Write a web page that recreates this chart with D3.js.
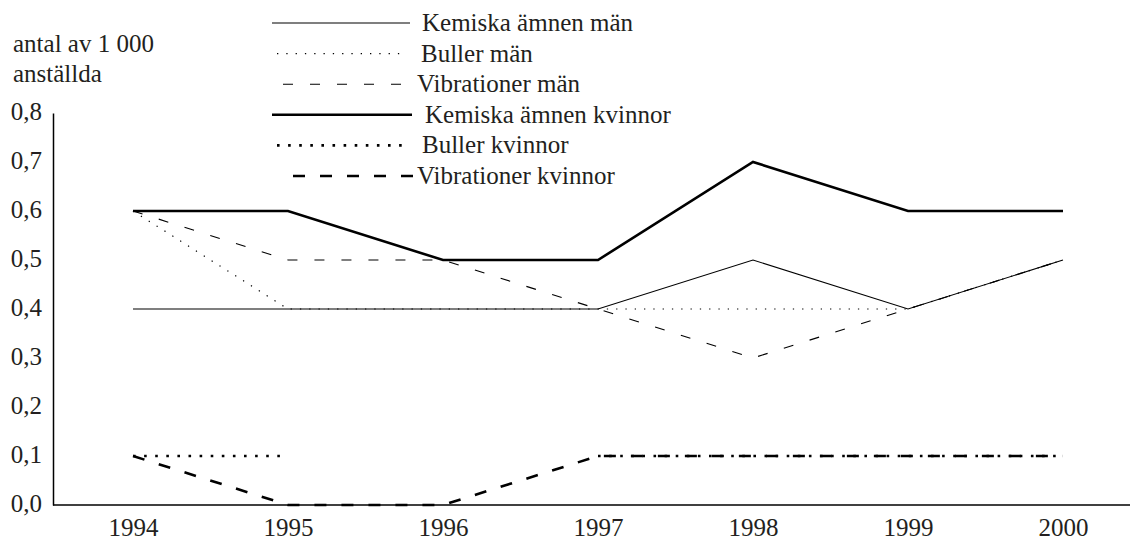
<!DOCTYPE html>
<html>
  <head>
    <meta charset="utf-8">
    <script src="https://d3js.org/d3.v7.min.js"></script>
    <title>Arbetsskador</title>
    <style>
      body { margin: 0px; background: #fff; }
      text {
        font-family: "Liberation Serif", "Times New Roman", serif;
        font-size: 25px;
        fill: #231f20;
      }
      .tick line { display: none; }
      .line { fill: none; stroke: #000; }
    </style>
  </head>
  <body>
    <svg width="1130" height="540"></svg>
    <script>
      const years = ['1994', '1995', '1996', '1997', '1998', '1999', '2000'];
      const yTicks = [0, 0.1, 0.2, 0.3, 0.4, 0.5, 0.6, 0.7, 0.8];

      const kemiskaMan      = [0.4, 0.4, 0.4, 0.4, 0.5, 0.4, 0.5];
      const bullerMan       = [0.6, 0.4, 0.4, 0.4, 0.4, 0.4, 0.5];
      const vibrationerMan  = [0.6, 0.5, 0.5, 0.4, 0.3, 0.4, 0.5];
      const kemiskaKvinnor  = [0.6, 0.6, 0.5, 0.5, 0.7, 0.6, 0.6];
      const bullerKvinnor   = [0.1, 0.1, null, 0.1, 0.1, 0.1, 0.1];   // 1996 saknas
      const vibrationerKvinnor = [0.1, 0.0, 0.0, 0.1, 0.1, 0.1, 0.1];

      // line styles + where each legend sample starts/ends
      const series = [
        { name: 'Kemiska ämnen män', values: kemiskaMan, width: 1.1, dash: null, lx: [272, 410], tx: 422 },
        { name: 'Buller män', values: bullerMan, width: 1.2, dash: '1.3,8', lx: [277, 405], tx: 421 },
        { name: 'Vibrationer män', values: vibrationerMan, width: 1.1, dash: '10,17', lx: [283, 403], tx: 417 },
        { name: 'Kemiska ämnen kvinnor', values: kemiskaKvinnor, width: 2.6, dash: null, lx: [272, 412], tx: 425 },
        { name: 'Buller kvinnor', values: bullerKvinnor, width: 2.6, dash: '2.6,8.5', lx: [277, 405], tx: 422 },
        { name: 'Vibrationer kvinnor', values: vibrationerKvinnor, width: 2.6, dash: '12,15', lx: [293, 413], tx: 417 }
      ];

      const svg = d3.select('svg');

      const xScale = d3.scalePoint()
        .domain(years)
        .range([133, 1063]);

      const yScale = d3.scaleLinear()
        .domain([0, 0.8])
        .range([505, 113]);

      // y axis
      const yAxisG = svg.append('g')
        .attr('transform', 'translate(53,0)')
        .call(d3.axisLeft(yScale)
          .tickValues(yTicks)
          .tickSize(0)
          .tickSizeOuter(0)
          .tickPadding(11)
          .tickFormat(d => d3.format('.1f')(d).replace('.', ',')));
      yAxisG.select('.domain').attr('stroke', '#000').attr('stroke-width', 1.5);
      yAxisG.selectAll('.tick text').attr('dy', '0.25em');

      // x axis, the line runs past the last year to the edge
      const xAxisG = svg.append('g')
        .attr('transform', 'translate(0,505)')
        .call(d3.axisBottom(xScale).tickSize(0).tickPadding(13));
      xAxisG.select('.domain').remove();
      xAxisG.selectAll('.tick text').attr('dy', '0.71em');
      xAxisG.append('line')
        .attr('x1', 53).attr('x2', 1130)
        .attr('stroke', '#000').attr('stroke-width', 1.5);

      // axis title
      svg.append('text').attr('x', 13).attr('y', 52).text('antal av 1 000');
      svg.append('text').attr('x', 13).attr('y', 82).text('anställda');

      // lines
      const line = d3.line()
        .defined(d => d.v !== null)
        .x(d => xScale(d.year))
        .y(d => yScale(d.v));

      svg.selectAll('.line').data(series)
        .enter().append('path')
          .attr('class', 'line')
          .attr('d', s => line(years.map((y, i) => ({ year: y, v: s.values[i] }))))
          .attr('stroke-width', s => s.width)
          .attr('stroke-dasharray', s => s.dash);

      // legend
      const rows = svg.append('g').selectAll('g').data(series)
        .enter().append('g')
          .attr('transform', (s, i) => `translate(0,${23 + i * 30.6})`);
      rows.append('line')
        .attr('x1', s => s.lx[0]).attr('x2', s => s.lx[1])
        .attr('stroke', '#000')
        .attr('stroke-width', s => s.width)
        .attr('stroke-dasharray', s => s.dash);
      rows.append('text')
        .attr('x', s => s.tx)
        .attr('y', 8)
        .text(s => s.name);
    </script>
  </body>
</html>
